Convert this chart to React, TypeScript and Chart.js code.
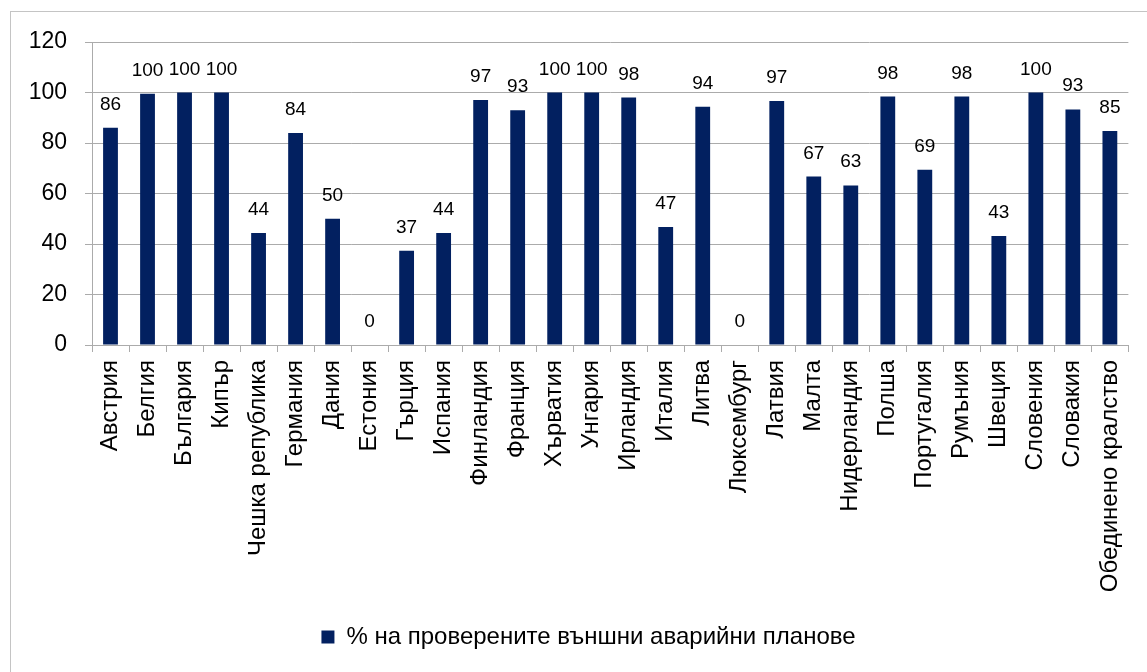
import React, { useEffect, useRef } from "react";
import { Chart, registerables } from "chart.js";

Chart.register(...registerables);

const countries = [
  "Австрия", "Белгия", "България", "Кипър", "Чешка република", "Германия", "Дания",
  "Естония", "Гърция", "Испания", "Финландия", "Франция", "Хърватия", "Унгария",
  "Ирландия", "Италия", "Литва", "Люксембург", "Латвия", "Малта", "Нидерландия",
  "Полша", "Португалия", "Румъния", "Швеция", "Словения", "Словакия", "Обединено кралство",
];

const checkedPlans = [
  86, 99.5, 100, 100, 44.4, 84, 50,
  0, 37.3, 44.4, 97, 93, 100, 100,
  98, 46.7, 94.4, 0, 96.6, 66.7, 63.2,
  98.4, 69.4, 98.4, 43.2, 100, 93.3, 84.8,
];

const seriesLabel = "% на проверените външни аварийни планове";
const yTicks = [0, 20, 40, 60, 80, 100, 120];

const BAR_COLOR = "#022060";
const GRID_COLOR = "#ababab";
const FONT = "'Liberation Sans', Arial, sans-serif";

const frame = {
  id: "frame",
  afterLayout(chart: any) {
    if (chart.legend) {
      chart.legend.left += 36;
    }
  },
  beforeDraw(chart: any) {
    const ctx = chart.ctx;
    ctx.save();
    ctx.fillStyle = "#ffffff";
    ctx.fillRect(0, 0, chart.width, chart.height);
    ctx.strokeStyle = "#c4c4c4";
    ctx.lineWidth = 1;
    ctx.strokeRect(10.5, 11.5, 1300, 800);
    ctx.restore();
  },
};

const valueLabels = {
  id: "valueLabels",
  afterDatasetsDraw(chart: any) {
    const ctx = chart.ctx;
    const meta = chart.getDatasetMeta(0);
    const data = chart.data.datasets[0].data as number[];
    ctx.save();
    ctx.font = `19px ${FONT}`;
    ctx.fillStyle = "#000000";
    ctx.textAlign = "center";
    ctx.textBaseline = "alphabetic";
    meta.data.forEach((bar: any, i: number) => {
      ctx.fillText(String(Math.round(data[i])), bar.x, bar.y - 18);
    });
    ctx.restore();
  },
};

export default function App() {
  const ref = useRef<HTMLCanvasElement | null>(null);

  useEffect(() => {
    if (!ref.current) return;
    const chart = new Chart(ref.current, {
      type: "bar",
      data: {
        labels: countries,
        datasets: [
          {
            label: seriesLabel,
            data: checkedPlans,
            backgroundColor: BAR_COLOR,
            borderWidth: 0,
            categoryPercentage: 1,
            barPercentage: 0.4,
          },
        ],
      },
      options: {
        animation: false,
        responsive: true,
        maintainAspectRatio: false,
        layout: { padding: { left: 12, right: 18, top: 42, bottom: 13 } },
        plugins: {
          tooltip: { enabled: false },
          legend: {
            position: "bottom",
            labels: {
              font: { family: FONT, size: 24 },
              color: "#000000",
              boxWidth: 13,
              boxHeight: 13,
              padding: 10,
            },
          },
        },
        scales: {
          x: {
            afterFit(scale: any) {
              scale.height = 270;
            },
            grid: {
              display: true,
              drawOnChartArea: false,
              drawTicks: true,
              tickLength: 7,
              color: GRID_COLOR,
              offset: true,
            },
            border: { display: true, color: GRID_COLOR },
            ticks: {
              autoSkip: false,
              maxRotation: 90,
              minRotation: 90,
              padding: 8,
              color: "#000000",
              font: { family: FONT, size: 24 },
            },
          },
          y: {
            min: 0,
            max: 120,
            afterFit(scale: any) {
              scale.width = 80;
            },
            afterBuildTicks(scale: any) {
              scale.ticks = yTicks.map((v) => ({ value: v }));
            },
            grid: {
              color: GRID_COLOR,
              tickLength: 7,
              drawTicks: true,
            },
            border: { display: true, color: GRID_COLOR },
            ticks: {
              padding: 18,
              color: "#000000",
              font: { family: FONT, size: 23 },
            },
          },
        },
      },
      plugins: [frame, valueLabels],
    });
    return () => chart.destroy();
  }, []);

  return (
    <div style={{ position: "absolute", left: 0, top: 0, width: 1147, height: 672 }}>
      <canvas ref={ref} />
    </div>
  );
}
